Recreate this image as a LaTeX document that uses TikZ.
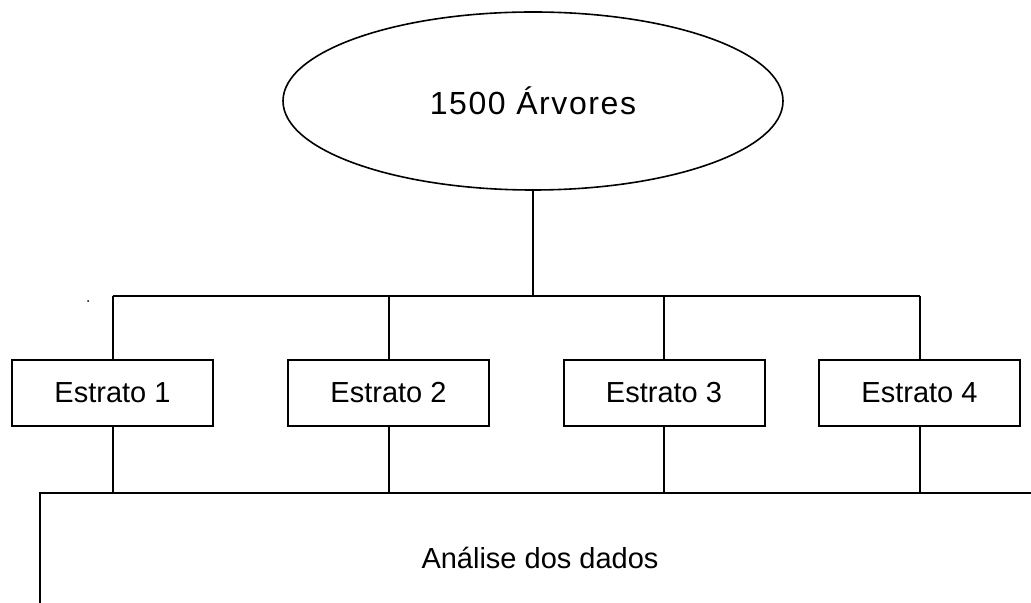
\documentclass[tikz,border=0pt]{standalone}
\usepackage{fontspec}
\setmainfont{Liberation Sans}
\usepackage{tikz}
\usetikzlibrary{shapes.geometric}

\tikzset{
  estrato/.style={draw,line width=1pt,minimum width=100.5pt,minimum height=33pt,inner sep=0pt,font=\fontsize{14.5}{17}\selectfont},
  populacao/.style={draw,ellipse,line width=0.8pt,minimum width=250pt,minimum height=89pt,inner sep=0pt,font=\fontsize{16}{19}\selectfont\addfontfeature{LetterSpace=5}},
  analise/.style={draw,line width=1pt,minimum width=500pt,minimum height=65pt,inner sep=0pt,font=\fontsize{14.5}{17}\selectfont},
  ligacao/.style={line width=1pt}
}

\begin{document}
\begin{tikzpicture}[x=0.5pt,y=-0.5pt]
\clip (0,0) rectangle (1031,603);
\fill[white] (0,0) rectangle (1031,603);

\node[populacao] (pop) at (533,101) {1500 Árvores};
\node[estrato] (e1) at (112.5,393) {Estrato 1};
\node[estrato] (e2) at (388.5,393) {Estrato 2};
\node[estrato] (e3) at (664,393) {Estrato 3};
\node[estrato] (e4) at (919.5,393) {Estrato 4};
\node[analise] (dados) at (540,558) {Análise dos dados};
\coordinate (bus) at (0,296);

\fill (88,301) circle (1);

\draw[ligacao] (pop.south) -- (pop.south |- bus);
\draw[ligacao] (e1.north |- bus) -- (e4.north |- bus);
\foreach \e in {e1,e2,e3,e4}{
  \draw[ligacao] (\e.north |- bus) -- (\e.north);
  \draw[ligacao] (\e.south) -- (\e.south |- dados.north);
}
\end{tikzpicture}
\end{document}
